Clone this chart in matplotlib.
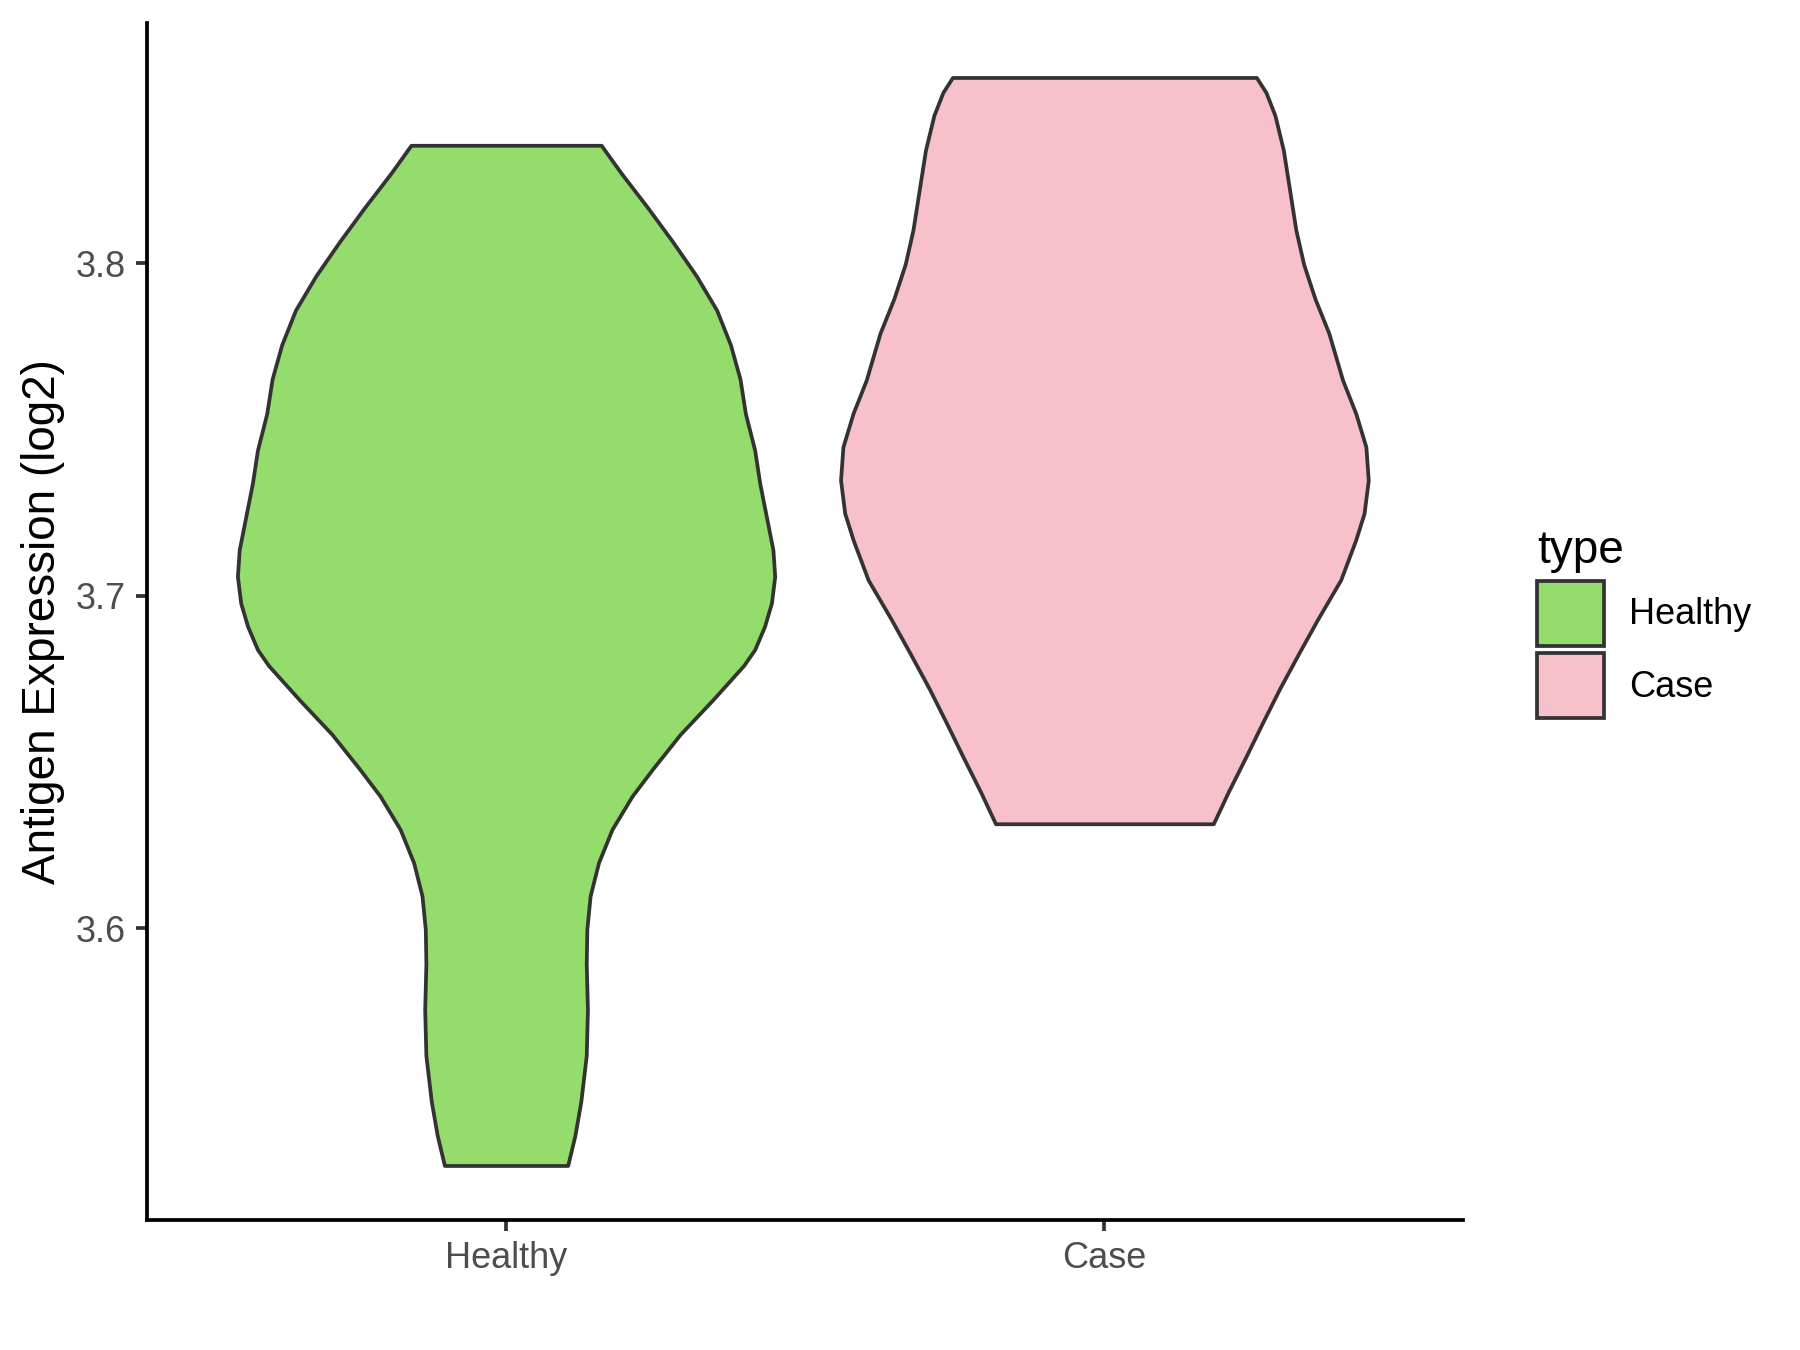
import numpy as np
import matplotlib as mpl
import matplotlib.pyplot as plt
from matplotlib.patches import Patch

mpl.rcParams["font.family"] = ["Liberation Sans", "DejaVu Sans"]

# groups and colours
groups = ["Healthy", "Case"]
colors = ["#94DC6B", "#F7C0CB"]

# violin outlines: expression level and half width (in x units)
healthy_y = [3.8355, 3.8272, 3.8169, 3.8066, 3.7962, 3.7859, 3.7755, 3.7652, 3.7548,
             3.7438, 3.7338, 3.7238, 3.7138, 3.7058, 3.6978, 3.6908, 3.6838, 3.6790,
             3.6686, 3.6583, 3.6479, 3.6397, 3.6297, 3.6197, 3.6097, 3.5997, 3.5893,
             3.5755, 3.5617, 3.5479, 3.5376, 3.5286]
healthy_hw = [0.159, 0.192, 0.236, 0.278, 0.318, 0.352, 0.375, 0.391, 0.400,
              0.4155, 0.424, 0.435, 0.446, 0.449, 0.4435, 0.432, 0.4155, 0.397,
              0.345, 0.291, 0.245, 0.2105, 0.177, 0.1545, 0.1405, 0.135, 0.134,
              0.136, 0.134, 0.125, 0.115, 0.103]

case_y = [3.8559, 3.8514, 3.8445, 3.8341, 3.8238, 3.8100, 3.7997, 3.7893, 3.7790,
          3.7686, 3.7649, 3.7549, 3.7448, 3.7348, 3.7248, 3.7168, 3.7048, 3.6928,
          3.6824, 3.6721, 3.6617, 3.6514, 3.6410, 3.6314]
case_hw = [0.254, 0.270, 0.285, 0.299, 0.308, 0.320, 0.333, 0.352, 0.375,
           0.392, 0.398, 0.420, 0.437, 0.441, 0.434, 0.420, 0.395, 0.356,
           0.324, 0.293, 0.264, 0.236, 0.207, 0.182]

yticks = [3.6, 3.7, 3.8]

fig = plt.figure(figsize=(18, 13.5), dpi=100)
ax = fig.add_axes([0.0817, 0.0963, 0.813 - 0.0817, 0.983 - 0.0963])

outlines = [(healthy_y, healthy_hw), (case_y, case_hw)]
for i, (yy, hw) in enumerate(outlines):
    pos = i + 1
    yy = np.array(yy)
    hw = np.array(hw)
    ax.fill_betweenx(yy, pos - hw, pos + hw, facecolor=colors[i],
                     edgecolor="#333333", linewidth=2.7, joinstyle="round",
                     zorder=2)

ax.set_xlim(0.4, 2.6)
ax.set_ylim(3.5122, 3.8723)
ax.set_xticks([1, 2])
ax.set_xticklabels(groups)
ax.set_yticks(yticks)
ax.set_yticklabels([f"{t:.1f}" for t in yticks])

for side in ["top", "right"]:
    ax.spines[side].set_visible(False)
for side in ["left", "bottom"]:
    ax.spines[side].set_linewidth(2.7)
    ax.spines[side].set_color("black")

ax.tick_params(axis="both", length=8, width=2.7, color="#333333",
               labelsize=26, labelcolor="#4D4D4D", pad=7)
ax.set_ylabel("Antigen Expression (log2)", fontsize=33, labelpad=8)

handles = [Patch(facecolor=c, edgecolor="#333333", linewidth=2.7, label=g)
           for g, c in zip(groups, colors)]
leg = fig.legend(handles=handles, title="type", loc="center left",
                 bbox_to_anchor=(0.836, 0.538), frameon=False,
                 fontsize=26, title_fontsize=33, handlelength=1.85,
                 handleheight=2.4, labelspacing=0.2, handletextpad=0.7,
                 alignment="left")

fig.savefig("out.png", dpi=100)
